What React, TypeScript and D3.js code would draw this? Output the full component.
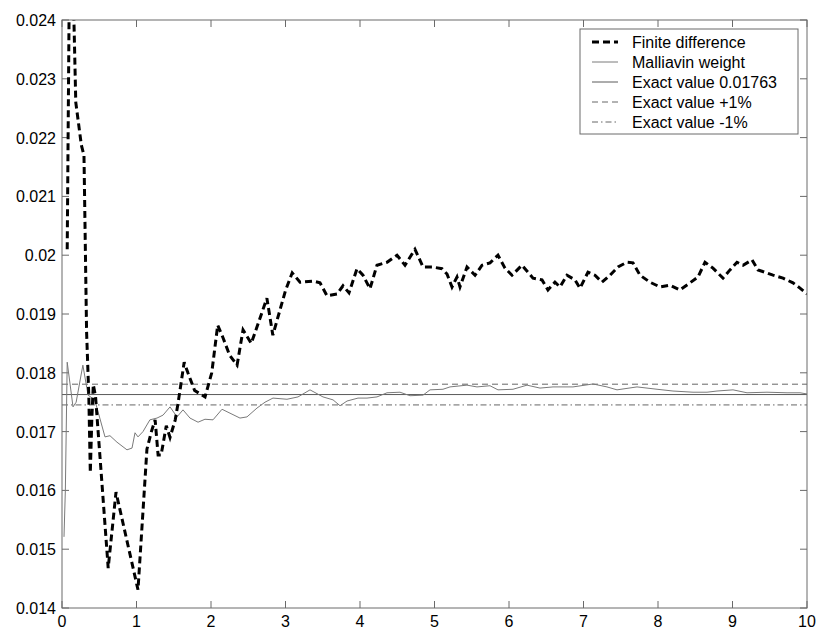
import React from "react";
import * as d3 from "d3";

const finiteDifference: [number, number][] = [
  [0.07, 0.0201], [0.11, 0.0265], [0.16, 0.024], [0.185, 0.0226], [0.26, 0.02187], [0.295, 0.0217],
  [0.33, 0.0187], [0.36, 0.0176], [0.38, 0.0163], [0.4, 0.0172], [0.42, 0.0178], [0.45, 0.0176],
  [0.62, 0.01468], [0.725, 0.01597], [1.02, 0.01431], [1.14, 0.0167], [1.2, 0.017], [1.25, 0.0172],
  [1.29, 0.0166], [1.33, 0.0166], [1.4, 0.0171], [1.45, 0.0169], [1.52, 0.0172], [1.56, 0.0175],
  [1.64, 0.01818], [1.69, 0.018], [1.78, 0.0177], [1.92, 0.01759], [2.01, 0.018], [2.09, 0.01881],
  [2.16, 0.0186], [2.25, 0.0183], [2.35, 0.01813], [2.43, 0.01873], [2.54, 0.0185], [2.65, 0.0189],
  [2.75, 0.01927], [2.83, 0.01864], [3.0, 0.0194], [3.09, 0.0197], [3.195, 0.01954], [3.369, 0.01956],
  [3.463, 0.01953], [3.557, 0.01931], [3.691, 0.01934], [3.772, 0.01948], [3.852, 0.01936],
  [3.96, 0.01977], [4.04, 0.01966], [4.134, 0.01943], [4.228, 0.01983], [4.362, 0.01988],
  [4.497, 0.02], [4.604, 0.01983], [4.738, 0.0201], [4.846, 0.0198], [4.966, 0.0198],
  [5.101, 0.01977], [5.168, 0.01968], [5.235, 0.01946], [5.302, 0.01963], [5.342, 0.01946],
  [5.436, 0.0198], [5.544, 0.01966], [5.638, 0.01983], [5.745, 0.01987], [5.852, 0.02],
  [5.946, 0.01978], [6.04, 0.01966], [6.174, 0.01983], [6.322, 0.01961], [6.443, 0.01958],
  [6.523, 0.01941], [6.617, 0.01954], [6.685, 0.01946], [6.779, 0.01966], [6.886, 0.01958],
  [6.953, 0.01944], [7.06, 0.01971], [7.154, 0.01966], [7.248, 0.01954], [7.356, 0.01966],
  [7.463, 0.0198], [7.584, 0.01988], [7.664, 0.01987], [7.758, 0.01966], [7.893, 0.01954],
  [8.027, 0.01946], [8.161, 0.01949], [8.295, 0.01941], [8.43, 0.01953], [8.537, 0.01963],
  [8.631, 0.01988], [8.738, 0.01978], [8.872, 0.01961], [8.966, 0.01975], [9.06, 0.01988],
  [9.141, 0.01983], [9.262, 0.01992], [9.342, 0.01975], [9.436, 0.01971], [9.544, 0.01966],
  [9.678, 0.01961], [9.812, 0.01953], [9.906, 0.01944], [10, 0.01934],
];

const malliavinWeight: [number, number][] = [
  [0.027, 0.01521], [0.045, 0.016], [0.07, 0.01818], [0.148, 0.01742], [0.19, 0.0175], [0.28, 0.01813],
  [0.35, 0.01762], [0.44, 0.01754], [0.577, 0.01691], [0.644, 0.01693], [0.738, 0.01682],
  [0.872, 0.01669], [0.94, 0.01672], [0.98, 0.01698], [1.02, 0.01691], [1.087, 0.017], [1.18, 0.0172],
  [1.275, 0.01723], [1.356, 0.01728], [1.45, 0.01742], [1.544, 0.01725], [1.624, 0.01737],
  [1.718, 0.01723], [1.826, 0.01716], [1.919, 0.01721], [2.027, 0.0172], [2.148, 0.01738],
  [2.228, 0.01733], [2.389, 0.01723], [2.483, 0.01725], [2.617, 0.0174], [2.725, 0.0175],
  [2.832, 0.01757], [3.02, 0.01755], [3.168, 0.01759], [3.329, 0.01771], [3.503, 0.01759],
  [3.638, 0.01754], [3.732, 0.01744], [3.826, 0.01752], [3.973, 0.01757], [4.094, 0.01757],
  [4.228, 0.01759], [4.362, 0.01766], [4.537, 0.01767], [4.671, 0.01761], [4.846, 0.01762],
  [4.94, 0.01771], [5.114, 0.01772], [5.208, 0.01776], [5.436, 0.01779], [5.57, 0.01776],
  [5.745, 0.01778], [5.852, 0.01771], [6.054, 0.01772], [6.242, 0.01779], [6.416, 0.01774],
  [6.591, 0.01776], [6.859, 0.01776], [7.128, 0.01781], [7.315, 0.01776], [7.45, 0.01771],
  [7.718, 0.01776], [7.987, 0.01772], [8.201, 0.01769], [8.47, 0.01767], [8.658, 0.01767],
  [8.792, 0.01769], [9.007, 0.01771], [9.195, 0.01766], [9.463, 0.01767], [9.732, 0.01766],
  [9.906, 0.01766], [10, 0.01764],
];

const exactValue = 0.01763;
const exactPlus = exactValue * 1.01;
const exactMinus = exactValue * 0.99;

const xTicks = [0, 1, 2, 3, 4, 5, 6, 7, 8, 9, 10];
const yTicks = [0.014, 0.015, 0.016, 0.017, 0.018, 0.019, 0.02, 0.021, 0.022, 0.023, 0.024];
const yTickLabels = ["0.014", "0.015", "0.016", "0.017", "0.018", "0.019", "0.02", "0.021", "0.022", "0.023", "0.024"];

const legendLabels = ["Finite difference", "Malliavin weight", "Exact value 0.01763", "Exact value +1%", "Exact value -1%"];

const W = 817, H = 630;
const L = 62, R = 807, T = 20, B = 608;
const FONT = "'Liberation Sans', Arial, sans-serif";

export default function App() {
  const x = d3.scaleLinear().domain([0, 10]).range([L, R]);
  const y = d3.scaleLinear().domain([0.014, 0.024]).range([B, T]);
  const line = d3.line<[number, number]>().x((d) => x(d[0])).y((d) => y(d[1]));
  const axisColor = "#6a6a6a";
  const tickLen = 7;

  const styles = [
    { stroke: "#000", width: 3, dash: "7,4" },
    { stroke: "#7a7a7a", width: 1, dash: "" },
    { stroke: "#5a5a5a", width: 1, dash: "" },
    { stroke: "#666", width: 1, dash: "6,4" },
    { stroke: "#666", width: 1, dash: "6,3,1.5,3" },
  ];

  const legendX = 580, legendY = 29, legendW = 218, legendH = 105;

  return (
    <svg width={W} height={H} style={{ position: "absolute", left: 0, top: 0, background: "#fff" }}>
      <defs>
        <clipPath id="plot">
          <rect x={L} y={T} width={R - L} height={B - T} />
        </clipPath>
      </defs>
      <rect x={0} y={0} width={W} height={H} fill="#fff" />
      {/* ticks */}
      {xTicks.map((t) => (
        <g key={"xt" + t}>
          <line x1={x(t)} x2={x(t)} y1={B} y2={B - tickLen} stroke={axisColor} />
          <line x1={x(t)} x2={x(t)} y1={T} y2={T + tickLen} stroke={axisColor} />
          <text x={x(t)} y={627} textAnchor="middle" fontFamily={FONT} fontSize={16} fill="#000">
            {t}
          </text>
        </g>
      ))}
      {yTicks.map((t, i) => (
        <g key={"yt" + t}>
          <line x1={L} x2={L + tickLen} y1={y(t)} y2={y(t)} stroke={axisColor} />
          <line x1={R} x2={R - tickLen} y1={y(t)} y2={y(t)} stroke={axisColor} />
          <text x={56} y={y(t) + 6} textAnchor="end" fontFamily={FONT} fontSize={16} fill="#000">
            {yTickLabels[i]}
          </text>
        </g>
      ))}
      <g clipPath="url(#plot)">
        <line x1={L} x2={R} y1={y(exactPlus)} y2={y(exactPlus)} stroke={styles[3].stroke} strokeDasharray={styles[3].dash} />
        <line x1={L} x2={R} y1={y(exactValue)} y2={y(exactValue)} stroke={styles[2].stroke} />
        <line x1={L} x2={R} y1={y(exactMinus)} y2={y(exactMinus)} stroke={styles[4].stroke} strokeDasharray={styles[4].dash} />
        <path d={line(malliavinWeight) || ""} fill="none" stroke={styles[1].stroke} strokeWidth={1} />
        <path d={line(finiteDifference) || ""} fill="none" stroke="#000" strokeWidth={3} strokeDasharray={styles[0].dash} />
      </g>
      <rect x={L} y={T} width={R - L} height={B - T} fill="none" stroke={axisColor} />
      {/* legend */}
      <rect x={legendX} y={legendY} width={legendW} height={legendH} fill="#fff" stroke={axisColor} />
      {legendLabels.map((lab, i) => {
        const cy = 42 + i * 20;
        const s = styles[i];
        return (
          <g key={lab}>
            <line x1={592} x2={618} y1={cy} y2={cy} stroke={s.stroke} strokeWidth={s.width} strokeDasharray={s.dash || undefined} />
            <text x={632} y={cy + 6} fontFamily={FONT} fontSize={16} fill="#000">
              {lab}
            </text>
          </g>
        );
      })}
    </svg>
  );
}
